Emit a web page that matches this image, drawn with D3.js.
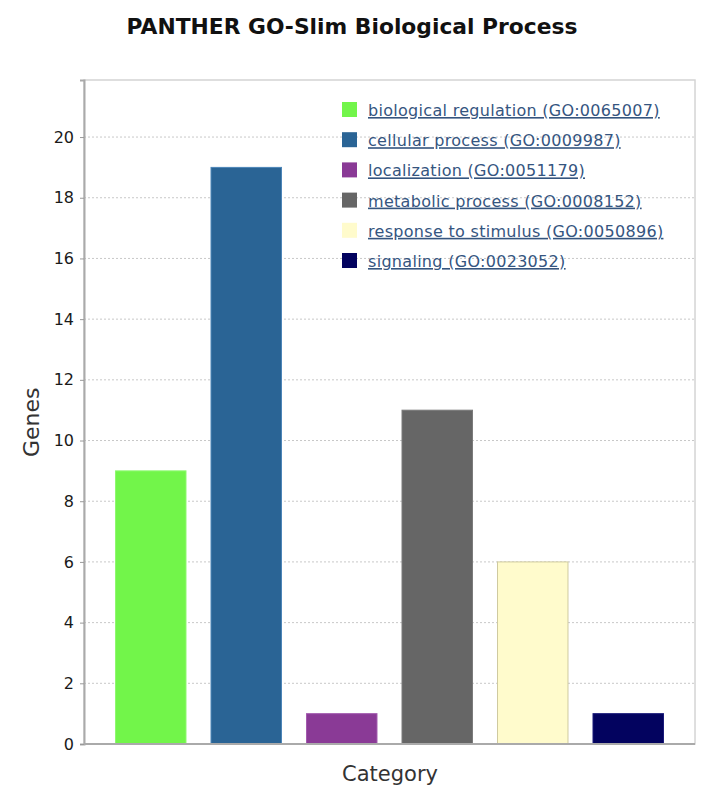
<!DOCTYPE html>
<html>
<head>
<meta charset="utf-8">
<script src="https://cdn.jsdelivr.net/npm/d3@7"></script>
<style>
  body { margin: 0; background: #fff; }
  svg { display: block; }
</style>
</head>
<body>
<svg id="chart"></svg>
<script>
// données
const categories = [
  "biological regulation (GO:0065007)",
  "cellular process (GO:0009987)",
  "localization (GO:0051179)",
  "metabolic process (GO:0008152)",
  "response to stimulus (GO:0050896)",
  "signaling (GO:0023052)"
];
const genes = [9, 19, 1, 11, 6, 1];
const colors = ["#72f54a", "#2a6495", "#8a3a96", "#666666", "#fffbcc", "#03035f"];
const strokes = ["#8ef870", "#4d85b8", "#a35aae", "#7a7a7a", "#cfcaa0", "#1a1a7a"];
const yTicks = [0, 2, 4, 6, 8, 10, 12, 14, 16, 18, 20];

function drawChart() {
    const W = 719, H = 796;
    const margin = { top: 80, right: 24, bottom: 52, left: 84 };
    const width = W - margin.left - margin.right;
    const height = H - margin.top - margin.bottom;

    const svg = d3.select("#chart").attr("width", W).attr("height", H);

    // titre
    svg.append("text")
       .attr("x", 352).attr("y", 34)
       .attr("text-anchor", "middle")
       .style("font-family", "DejaVu Sans")
       .style("font-weight", "bold")
       .style("font-size", "21.8px")
       .attr("fill", "#111")
       .text("PANTHER GO-Slim Biological Process");

    const g = svg.append("g").attr("transform", `translate(${margin.left},${margin.top})`);

    const x = d3.scaleBand().domain(categories).range([0, width])
                .paddingInner(0.262).paddingOuter(0.33);
    const y = d3.scaleLinear().domain([0, 21.88]).range([height, 0]);

    // grille pointillée
    g.append("g")
     .selectAll("line")
     .data(yTicks.filter(d => d > 0))
     .enter().append("line")
     .attr("x1", 0).attr("x2", width)
     .attr("y1", d => y(d)).attr("y2", d => y(d))
     .attr("stroke", "#c8c8c8")
     .attr("stroke-width", 1)
     .attr("stroke-dasharray", "2,2");

    // cadre
    g.append("rect")
     .attr("x", 0).attr("y", 0).attr("width", width).attr("height", height)
     .attr("fill", "none").attr("stroke", "#d4d4d4").attr("stroke-width", 1.5);

    // barres
    g.selectAll(".bar")
     .data(categories)
     .enter().append("rect")
     .attr("class", "bar")
     .attr("x", d => x(d))
     .attr("y", (d, i) => y(genes[i]))
     .attr("width", x.bandwidth())
     .attr("height", (d, i) => y(0) - y(genes[i]))
     .attr("fill", (d, i) => colors[i])
     .attr("stroke", (d, i) => strokes[i])
     .attr("stroke-width", 1);

    // axe Y
    const yAxis = g.append("g")
     .call(d3.axisLeft(y).tickValues(yTicks).tickSize(4).tickPadding(6).tickFormat(d3.format("d")));
    yAxis.select(".domain").attr("stroke", "#aaaaaa").attr("stroke-width", 2);
    yAxis.selectAll(".tick line").attr("stroke", "#999");
    yAxis.selectAll("text")
         .style("font-family", "DejaVu Sans")
         .style("font-size", "16px")
         .attr("fill", "#1a1a1a");

    // axe X (ligne seule)
    g.append("line")
     .attr("x1", 0).attr("x2", width)
     .attr("y1", height).attr("y2", height)
     .attr("stroke", "#aaaaaa").attr("stroke-width", 2);

    // titres des axes
    svg.append("text")
       .attr("transform", `translate(39,${margin.top + y(10.6)}) rotate(-90)`)
       .attr("text-anchor", "middle")
       .style("font-family", "DejaVu Sans")
       .style("font-size", "22px")
       .attr("fill", "#333")
       .text("Genes");

    svg.append("text")
       .attr("x", 390).attr("y", 781)
       .attr("text-anchor", "middle")
       .style("font-family", "DejaVu Sans")
       .style("font-size", "21px")
       .attr("fill", "#333")
       .text("Category");

    // légende
    const legend = svg.append("g").attr("transform", "translate(342,102)");
    const rows = legend.selectAll(".leg")
        .data(categories)
        .enter().append("g")
        .attr("class", "leg")
        .attr("transform", (d, i) => `translate(0,${i * 30.2})`);
    rows.append("rect")
        .attr("width", 15).attr("height", 15)
        .attr("fill", (d, i) => colors[i]);
    rows.append("text")
        .attr("x", 26).attr("y", 14)
        .style("font-family", "DejaVu Sans")
        .style("font-size", "16px")
        .style("letter-spacing", "0.3px")
        .style("text-decoration", "underline")
        .attr("fill", "#35557f")
        .text(d => d);
}

drawChart();
</script>
</body>
</html>
